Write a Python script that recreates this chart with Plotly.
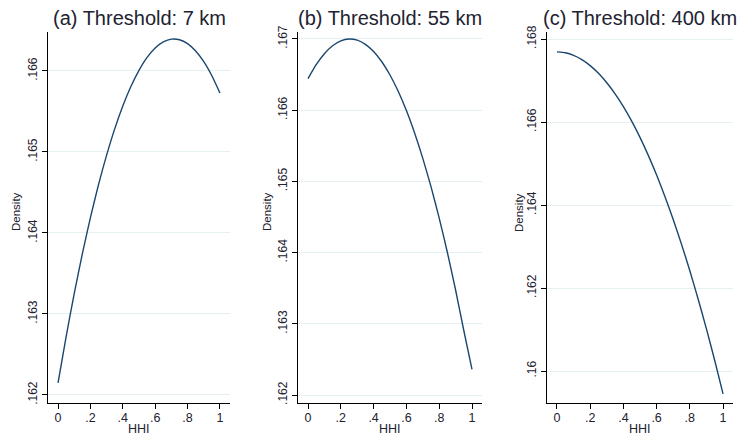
import plotly.graph_objects as go

# ---- data ----
hhi = [0.0, 0.05, 0.1, 0.15, 0.2, 0.25, 0.3, 0.35, 0.4, 0.45, 0.5,
       0.55, 0.6, 0.65, 0.7, 0.75, 0.8, 0.85, 0.9, 0.95, 1.0]
density_7km = [0.162148, 0.162721, 0.163251, 0.163741, 0.164189, 0.164596,
               0.164961, 0.165285, 0.165568, 0.165809, 0.166008, 0.166167,
               0.166284, 0.166359, 0.166393, 0.166385, 0.166337, 0.166246,
               0.166115, 0.165941, 0.165727]
density_55km = [0.166443, 0.166639, 0.166793, 0.166904, 0.166973, 0.167000,
                0.166984, 0.166925, 0.166824, 0.166680, 0.166494, 0.166265,
                0.165994, 0.165680, 0.165324, 0.164926, 0.164485, 0.164001,
                0.163475, 0.162906, 0.162360]
density_400km = [0.167690, 0.167669, 0.167608, 0.167505, 0.167360, 0.167175,
                 0.166948, 0.166681, 0.166372, 0.166021, 0.165630, 0.165197,
                 0.164724, 0.164209, 0.163652, 0.163055, 0.162416, 0.161737,
                 0.161016, 0.160254, 0.159450]

titles = ["(a) Threshold: 7 km", "(b) Threshold: 55 km", "(c) Threshold: 400 km"]
x_tickvals = [0, 0.2, 0.4, 0.6, 0.8, 1]
x_ticktext = ["0", ".2", ".4", ".6", ".8", "1"]
y_tickvals_a = [0.162, 0.163, 0.164, 0.165, 0.166]
y_ticktext_a = [".162", ".163", ".164", ".165", ".166"]
y_tickvals_b = [0.162, 0.163, 0.164, 0.165, 0.166, 0.167]
y_ticktext_b = [".162", ".163", ".164", ".165", ".166", ".167"]
y_tickvals_c = [0.160, 0.162, 0.164, 0.166, 0.168]
y_ticktext_c = [".16", ".162", ".164", ".166", ".168"]

# page body has an 8px margin: figure occupies window pixels 8..745 / 8..438
OFF = 8
W, H = 745 - OFF, 438 - OFF
FONT = "Liberation Sans, Arial, sans-serif"
LINE = "#1a476f"
TXT = "#222230"
GRID = "#e6eff1"


def px(v):
    return (v - OFF) / W


def py(v):
    return (H - (v - OFF)) / H


series = [density_7km, density_55km, density_400km]
xpix = [(48, 230), (298, 482), (547, 733)]
ytop, ybot = 32, 403
yranges = [(0.161901, 0.166481), (0.161888, 0.167098), (0.15923, 0.16817)]
xranges = [(-0.062, 1.062), (-0.061, 1.061), (-0.06, 1.06)]
yticks = [(y_tickvals_a, y_ticktext_a), (y_tickvals_b, y_ticktext_b), (y_tickvals_c, y_ticktext_c)]
ytitle_x = [16, 267, 519]

fig = go.Figure()
layout = dict(
    width=W, height=H,
    margin=dict(l=0, r=0, t=0, b=0),
    paper_bgcolor="white", plot_bgcolor="white",
    showlegend=False,
    font=dict(family=FONT, color=TXT),
    annotations=[],
)

for i in range(3):
    sfx = "" if i == 0 else str(i + 1)
    fig.add_trace(go.Scatter(
        x=hhi, y=series[i], mode="lines",
        line=dict(color=LINE, width=1.4, shape="spline", smoothing=0.6),
        xaxis="x" + sfx, yaxis="y" + sfx, hoverinfo="skip",
    ))
    l, r = xpix[i]
    layout["xaxis" + sfx] = dict(
        domain=[px(l), px(r)], range=list(xranges[i]),
        anchor="y" + sfx, automargin=False,
        tickvals=x_tickvals, ticktext=x_ticktext,
        ticks="outside", ticklen=5, tickcolor="#000", tickwidth=1,
        ticklabelstandoff=-2,
        showline=True, linecolor="#000", linewidth=1.2,
        showgrid=False, zeroline=False,
        tickfont=dict(size=12.5, family=FONT, color=TXT),
    )
    layout["yaxis" + sfx] = dict(
        domain=[py(ybot), py(ytop)], range=list(yranges[i]),
        anchor="x" + sfx, automargin=False,
        tickvals=yticks[i][0], ticktext=yticks[i][1],
        tickangle=-90,
        ticks="outside", ticklen=5, tickcolor="#000", tickwidth=1,
        showline=True, linecolor="#000", linewidth=1.2,
        showgrid=True, gridcolor=GRID, gridwidth=1,
        zeroline=False,
        tickfont=dict(size=12, family=FONT, color=TXT),
    )
    layout["annotations"].append(dict(
        text=titles[i], xref="paper", yref="paper",
        x=px((l + r) / 2), y=py(18), xanchor="center", yanchor="middle",
        showarrow=False, font=dict(size=20, family=FONT, color=TXT),
    ))
    layout["annotations"].append(dict(
        text="Density", xref="paper", yref="paper",
        x=px(ytitle_x[i]), y=py(212), xanchor="center", yanchor="middle",
        textangle=-90, showarrow=False, font=dict(size=11.5, family=FONT, color=TXT),
    ))
    layout["annotations"].append(dict(
        text="HHI", xref="paper", yref="paper",
        x=px((l + r) / 2), y=py(429), xanchor="center", yanchor="middle",
        showarrow=False, font=dict(size=12.5, family=FONT, color=TXT),
    ))

fig.update_layout(**layout)
fig.write_html("out.html")
